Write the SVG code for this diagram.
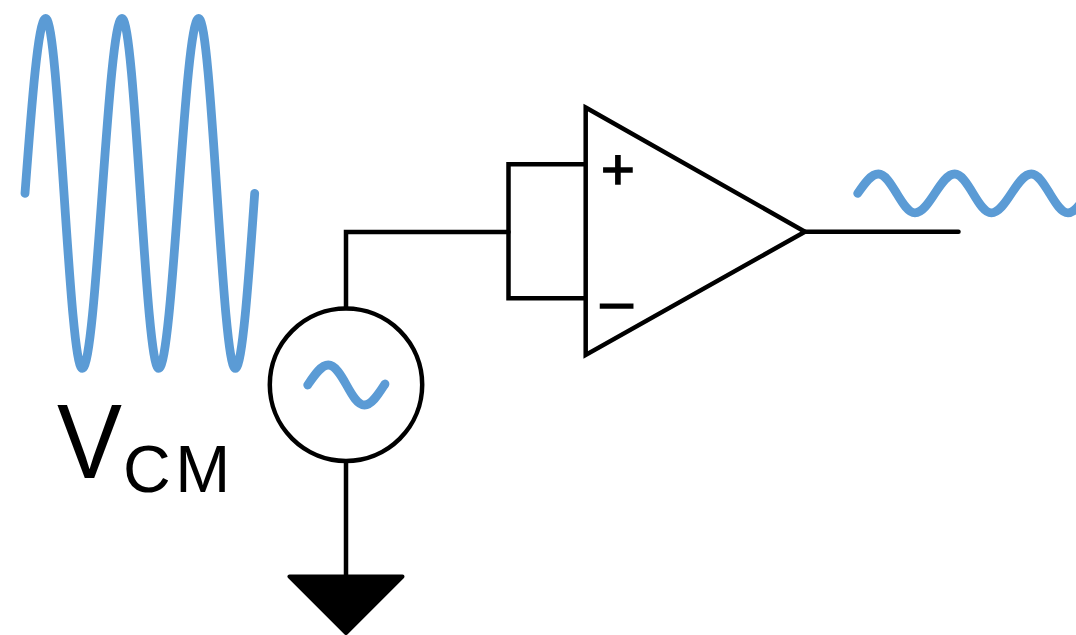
<svg xmlns="http://www.w3.org/2000/svg" width="1076" height="635" viewBox="0 0 1076 635">
<style>
.wire{fill:none;stroke:#000;stroke-width:4.5;stroke-linecap:round;stroke-linejoin:miter}
.wave{fill:none;stroke:#5b9bd5;stroke-width:8.8;stroke-linecap:round;stroke-linejoin:round}
.sign{font-family:"Liberation Sans",Arial,sans-serif;fill:#000}
.pm{stroke:#000;stroke-width:1.5}
</style>
<rect width="1076" height="635" fill="#fff"/>
<g id="connectors">
<path class="wire" d="M346 307V232H508.5"/>
<path class="wire" d="M585.7 164.3H508.5V298.3H585.7"/>
<path class="wire" d="M805 231.7H958.5"/>
<path class="wire" d="M346 461V576"/>
</g>
<g id="input-wave">
<path class="wave" d="M25 193.4C31.7 103.75 38.2 18.4 45.7 18.4C52.3 18.4 58 103.75 64 193.4C70 283.05 75.7 368.4 82.3 368.4C89.5 368.4 95.7 283.05 102.15 193.4C108.6 103.75 114.8 18.4 122 18.4C128.6 18.4 134.4 103.75 140.35 193.4C146.3 283.05 152.1 368.4 158.7 368.4C165.9 368.4 172.2 283.05 178.7 193.4C185.2 103.75 191.5 18.4 198.7 18.4C205.3 18.4 211 103.75 217 193.4C223 283.05 228.7 368.4 235.3 368.4C242.3 368.4 248.4 283.05 254.7 193.4"/>
</g>
<g id="vcm-label">
<text class="sign" x="57" y="477.7" font-size="105" textLength="65" lengthAdjust="spacingAndGlyphs">V</text>
<text class="sign" x="123" y="492.3" font-size="66" letter-spacing="4.5">CM</text>
</g>
<g id="source">
<circle cx="346" cy="384.7" r="76.2" fill="#fff" stroke="#000" stroke-width="4.5"/>
<path class="wave" d="M307.7 385C314.5 375 321 365 328.3 365C335 365 341 375 346.5 385C352 395 357.5 405 364.5 405C372 405 378.5 394 385 384"/>
</g>
<g id="ground">
<polygon points="289.5,576.5 402.5,576.5 346,633" fill="#000" stroke="#000" stroke-width="4" stroke-linejoin="round"/>
</g>
<g id="amplifier">
<polygon points="585.7,107.5 805,231.7 585.7,355" fill="#fff" stroke="#000" stroke-width="4.5" stroke-linejoin="miter"/>
<text class="sign pm" x="601" y="189" font-size="58">+</text>
<text class="sign pm" x="600.5" y="320.5" font-size="58">–</text>
</g>
<g id="output-wave">
<path class="wave" d="M857.7 193.4C864.4 183.46 870.9 174 878.4 174C885 174 890.7 183.46 896.7 193.4C902.7 203.34 908.4 212.8 915 212.8C922.2 212.8 928.4 203.34 934.85 193.4C941.3 183.46 947.5 174 954.7 174C961.3 174 967.1 183.46 973.05 193.4C979 203.34 984.8 212.8 991.4 212.8C998.6 212.8 1004.9 203.34 1011.4 193.4C1017.9 183.46 1024.2 174 1031.4 174C1038 174 1043.7 183.46 1049.7 193.4C1055.7 203.34 1061.4 212.8 1068 212.8C1075 212.8 1081.1 203.34 1087.4 193.4"/>
</g>
</svg>
